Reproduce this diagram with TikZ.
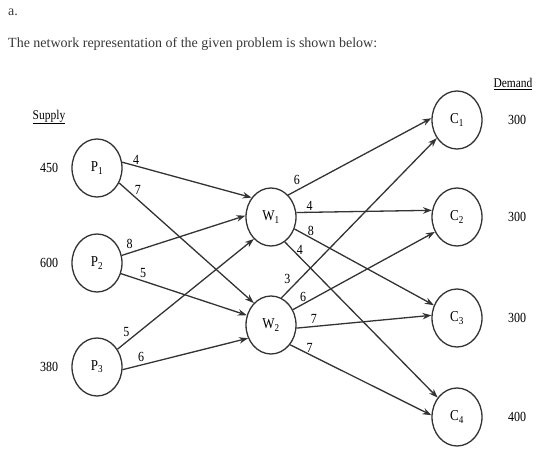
\documentclass[tikz,border=0pt]{standalone}
\usepackage{fontspec}
\usepackage{graphicx}
\setmainfont{Liberation Serif}
\usetikzlibrary{shapes.geometric,arrows.meta}
\newcommand\tallt[1]{\scalebox{1}[1.16]{#1}}
\begin{document}
\begin{tikzpicture}[x=1pt,y=-1pt,
  nd/.style={ellipse,draw=black!80,line width=1.3pt,minimum width=50pt,minimum height=58pt,inner sep=0pt,font=\fontsize{13}{15}\selectfont,text=black},
  arc/.style={draw=black!80,line width=1.3pt,-{Stealth[length=9pt,width=6.5pt]}},
  lbl/.style={font=\fontsize{12}{14}\selectfont,inner sep=0pt,text=black},
  qty/.style={font=\fontsize{12}{14}\selectfont,inner sep=0pt,text=black},
  hdr/.style={font=\fontsize{11.5}{13}\selectfont,inner sep=0pt,text=black},
  body/.style={font=\fontsize{14}{17}\selectfont,inner sep=0pt,anchor=west,text=black!78}]
\useasboundingbox (0,0) rectangle (560,462);
% heading text
\node[body] (ta) at (8,12) {a.};
\node[body] (tb) at (8,44) {The network representation of the given problem is shown below:};
% headers
\node[hdr] (sup) at (49,117) {\tallt{\underline{Supply}}};
\node[hdr] (dem) at (513,84) {\tallt{\underline{Demand}}};
% nodes
\node[nd] (P1) at (97,168) {\tallt{P\textsubscript{1}}};
\node[nd] (P2) at (97,263) {\tallt{P\textsubscript{2}}};
\node[nd] (P3) at (97,367) {\tallt{P\textsubscript{3}}};
\node[nd] (W1) at (271,217) {\tallt{W\textsubscript{1}}};
\node[nd] (W2) at (271,325) {\tallt{W\textsubscript{2}}};
\node[nd] (C1) at (457,120) {\tallt{C\textsubscript{1}}};
\node[nd] (C2) at (457,217) {\tallt{C\textsubscript{2}}};
\node[nd] (C3) at (457,318) {\tallt{C\textsubscript{3}}};
\node[nd] (C4) at (457,417) {\tallt{C\textsubscript{4}}};
% quantities
\node[qty] (s1) at (49,168) {\tallt{450}};
\node[qty] (s2) at (49,263) {\tallt{600}};
\node[qty] (s3) at (49,367) {\tallt{380}};
\node[qty] (d1) at (517,120) {\tallt{300}};
\node[qty] (d2) at (517,217) {\tallt{300}};
\node[qty] (d3) at (517,318) {\tallt{300}};
\node[qty] (d4) at (517,417) {\tallt{400}};
% plants to warehouses
\draw[arc] (P1.13) -- node[lbl,pos=0.095,shift={(1.7pt,6pt)}] (e1) {\tallt{4}} (W1.135);
\draw[arc] (P1.-34) -- node[lbl,pos=0.104,shift={(4.6pt,5.2pt)}] (e2) {\tallt{7}} (W2.128);
\draw[arc] (P2.17) -- node[lbl,pos=0.082,shift={(-2.3pt,8pt)}] (e3) {\tallt{8}} (W1.177);
\draw[arc] (P2.-24) -- node[lbl,pos=0.159,shift={(2.2pt,6.8pt)}] (e4) {\tallt{5}} (W2.158);
\draw[arc] (P3.41) -- node[lbl,pos=0.102,shift={(-5pt,6.3pt)}] (e5) {\tallt{5}} (W1.232);
\draw[arc] (P3.-6.5) -- node[lbl,pos=0.164,shift={(-2pt,7.6pt)}] (e6) {\tallt{6}} (W2.210);
% warehouses to customers
\draw[arc] (W1.52) -- node[lbl,pos=0.09,shift={(-4.3pt,8.4pt)}] (e7) {\tallt{6}} (C1.176);
\draw[arc] (W1.10) -- node[lbl,pos=0.097,shift={(0pt,6pt)}] (e8) {\tallt{4}} (C2.165);
\draw[arc] (W1.-27) -- node[lbl,pos=0.096,shift={(3pt,5.8pt)}] (e9) {\tallt{8}} (C3.151);
\draw[arc] (W1.-61) -- node[lbl,pos=0.074,shift={(3.8pt,3.8pt)}] (e10) {\tallt{4}} (C4.135);
\draw[arc] (W2.69) -- node[lbl,pos=0.079,shift={(-6.3pt,6.2pt)}] (e11) {\tallt{3}} (C1.222);
\draw[arc] (W2.35) -- node[lbl,pos=0.092,shift={(-2.9pt,5.8pt)}] (e12) {\tallt{6}} (C2.214);
\draw[arc] (W2.-7.5) -- node[lbl,pos=0.131,shift={(-0.4pt,7.6pt)}] (e13) {\tallt{7}} (C3.174);
\draw[arc] (W2.-46) -- node[lbl,pos=0.121,shift={(2.3pt,5pt)}] (e14) {\tallt{7}} (C4.176);
\end{tikzpicture}
\end{document}
